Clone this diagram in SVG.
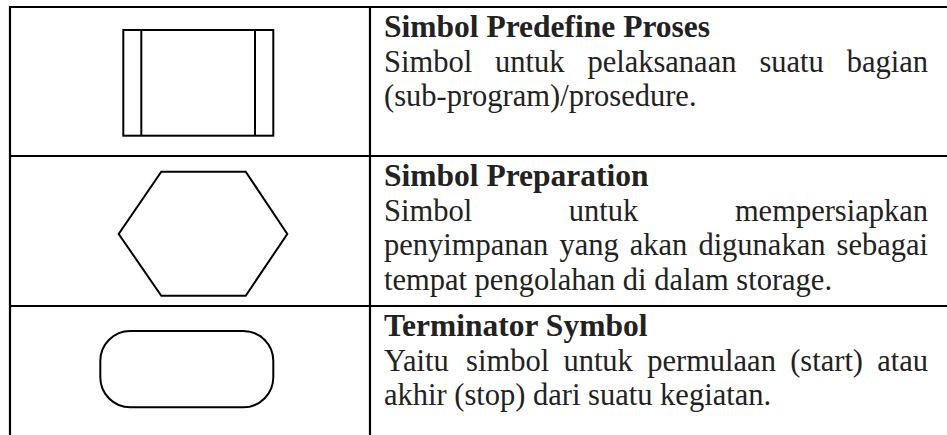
<svg xmlns="http://www.w3.org/2000/svg" width="947" height="435" viewBox="0 0 947 435">
<style>
.grid{stroke:#000;stroke-width:2.2;fill:none}
.shape{stroke:#000;stroke-width:2;fill:#fff}
text{font-family:"Liberation Serif","Times New Roman",serif;font-size:30.5px;fill:#222}
.t{font-weight:bold;font-size:31.5px}
</style>
<rect width="947" height="435" fill="#fff"/>
<g id="grid">
<line class="grid" x1="10" y1="7" x2="947" y2="7"/>
<line class="grid" x1="10" y1="6" x2="10" y2="435"/>
<line class="grid" x1="370" y1="6" x2="370" y2="435"/>
<line class="grid" x1="10" y1="156" x2="947" y2="156"/>
<line class="grid" x1="10" y1="306" x2="947" y2="306"/>
</g>
<g id="predefined">
<rect class="shape" x="123.3" y="30" width="150" height="105.7"/>
<line class="shape" x1="141.3" y1="30" x2="141.3" y2="135.7"/>
<line class="shape" x1="255" y1="30" x2="255" y2="135.7"/>
<text class="t" x="384" y="37">Simbol Predefine Proses</text>
<text y="72"><tspan x="384">Simbol</tspan><tspan x="495">untuk</tspan><tspan x="587.4">pelaksanaan</tspan><tspan x="759.4">suatu</tspan></text>
<text x="928" y="72" text-anchor="end">bagian</text>
<text x="384" y="106">(sub-program)/prosedure.</text>
</g>
<g id="preparation">
<polygon class="shape" points="161.3,171.7 245.7,171.7 287.3,234 245.7,295.7 161.3,295.7 118.7,234"/>
<text class="t" x="384" y="186">Simbol Preparation</text>
<text x="384" y="220.5">Simbol</text>
<text x="568.8" y="220.5">untuk</text>
<text x="928" y="220.5" text-anchor="end">mempersiapkan</text>
<text y="255"><tspan x="384">penyimpanan</tspan><tspan x="559.4">yang</tspan><tspan x="629.7">akan</tspan><tspan x="698.4">digunakan</tspan></text>
<text x="928" y="255" text-anchor="end">sebagai</text>
<text x="384" y="289.5">tempat pengolahan di dalam storage.</text>
</g>
<g id="terminator">
<rect class="shape" x="100.3" y="331" width="173" height="76.3" rx="30" ry="30"/>
<text class="t" x="384" y="336">Terminator Symbol</text>
<text y="370.5"><tspan x="384">Yaitu</tspan><tspan x="466.1">simbol</tspan><tspan x="563.4">untuk</tspan><tspan x="647.2">permulaan</tspan><tspan x="790.2">(start)</tspan></text>
<text x="928" y="370.5" text-anchor="end">atau</text>
<text x="384" y="405">akhir (stop) dari suatu kegiatan.</text>
</g>
</svg>
